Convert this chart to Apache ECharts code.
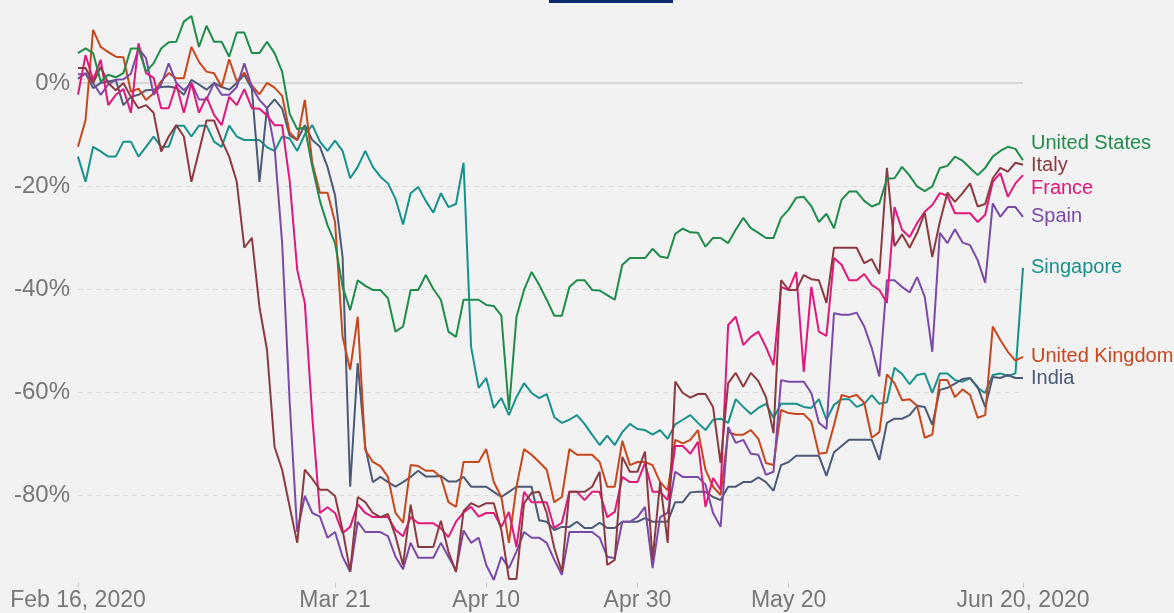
<!DOCTYPE html>
<html><head><meta charset="utf-8">
<script src="https://cdn.jsdelivr.net/npm/echarts@6/dist/echarts.min.js"></script>
<style>html,body{margin:0;padding:0;background:#f2f2f2}#c{width:1174px;height:613px}</style>
</head><body><div id="c"></div><script>
// ---- data (mobility change vs baseline, %) ----
const dayCount = 126; // Feb 16, 2020 .. Jun 20, 2020
const tickIndex = [0, 34, 54, 74, 94, 125];
const tickLabels = ['Feb 16, 2020', 'Mar 21', 'Apr 10', 'Apr 30', 'May 20', 'Jun 20, 2020'];
const seriesNames = ['Singapore', 'India', 'United Kingdom', 'Spain', 'France', 'Italy', 'United States'];

const unitedStates = [5.8,6.7,5.8,0.3,1.6,1.1,1.9,6.7,6.7,2.2,3.8,6.7,7.9,8.0,11.9,13.0,7.0,11.1,8.0,8.0,5.1,9.8,9.8,5.8,5.8,8.0,5.8,2.2,-6,-9,-8.6,-16.3,-22.9,-27.6,-31.1,-39.6,-44.1,-38.3,-39.4,-40.2,-40.2,-41.8,-48.3,-47.3,-40.2,-40.2,-37.3,-40,-42.1,-48.3,-49.3,-42.1,-42.1,-42.1,-43.1,-43.3,-45.2,-63.5,-45.4,-40.2,-36.7,-39.2,-42.1,-45.2,-45.2,-39.6,-38.3,-38.3,-40.2,-40.3,-41.2,-42.1,-35.3,-34,-34,-34,-32.2,-33.7,-34,-29.3,-28.3,-29,-29.1,-31.8,-30.1,-30.1,-31.1,-28.5,-26.2,-28.2,-29.1,-30.1,-30.1,-26.2,-24.6,-22.3,-22.1,-23.9,-27,-25.4,-28.2,-22.7,-21.1,-21.1,-22.9,-24,-23.4,-18.6,-18.5,-16.3,-18,-20.1,-21,-20.1,-16.5,-16.1,-14.3,-15.1,-16.5,-17.9,-16.5,-14.3,-13.2,-12.4,-12.8,-15.0];

const italy = [2.9,2.9,0,3.1,0,-1.4,0,-2.7,-4.9,-4.3,-5.8,-13.3,-10.4,-8.2,-10.4,-19.2,-13.3,-7.3,-7.3,-11.1,-14.3,-19.2,-32,-30.1,-43.5,-51.8,-70.7,-75.1,-82.3,-89.3,-75.1,-76.9,-79,-79,-80.2,-86.8,-94.9,-80.4,-81.4,-83.5,-84.3,-83.7,-88,-93.6,-81.9,-90.1,-90.1,-90.1,-85,-91,-95,-83.1,-81.6,-82.3,-81.6,-81.6,-86.8,-96.3,-96.3,-81.6,-79.6,-79.4,-83.5,-90.3,-94.9,-79.4,-79.4,-79.4,-78.4,-75.5,-93.6,-92.6,-72.6,-75.5,-75.5,-71.6,-92.6,-77.5,-89.3,-58,-60.2,-61.1,-60.4,-60.4,-62.9,-73.8,-58.3,-56.3,-59,-56.3,-57.9,-61,-68,-38.3,-40.2,-40.2,-37.3,-38.1,-38.3,-42.7,-32,-32,-32,-32,-35,-34.2,-37.1,-16.5,-31.7,-29.4,-32,-29.1,-25.2,-33.8,-27,-21.3,-23.1,-21.4,-19.5,-24,-23.5,-18.5,-16.5,-17.2,-15.5,-15.9];

const france = [-2.3,5.4,0.6,4.5,-4.3,-2.3,-1.2,-5.8,7.7,1.9,1.0,-4.9,-4.9,-0.3,-5.8,0,-5.8,-2.7,-6.2,-8.2,-2.7,-4.3,-1.2,-4.9,-5.0,-6.3,-8.2,-8.2,-19,-36.3,-42.7,-65,-83.5,-82.4,-83.5,-87.4,-86.2,-81.8,-83.5,-84.3,-84.3,-84.3,-86.8,-88,-84.3,-85.5,-85.5,-85.5,-86.5,-88.2,-85.2,-83.4,-82.3,-84.2,-83.5,-83.5,-86.2,-83.3,-90.1,-79.4,-81.4,-81.4,-81.4,-86.4,-85.4,-79.4,-79.4,-81,-79.4,-79.4,-84.3,-83.3,-76.5,-77.5,-77.5,-73.8,-79.4,-79.4,-81,-70.5,-70.5,-72,-69.7,-82.3,-76.7,-79,-47,-45.4,-50.9,-49.3,-48.3,-51.3,-54.8,-39.6,-40.2,-36.7,-56.1,-39.6,-48.3,-49.1,-34,-35.3,-38.3,-38.3,-37.1,-39.2,-40.2,-42.7,-24.1,-28.5,-29.9,-27.2,-25,-23.7,-21.4,-21.9,-25.3,-25.3,-25.3,-27,-25.6,-19.2,-17.5,-22.1,-19.5,-17.9];

const spain = [1.7,1.7,0,-2.3,-0.3,0.6,0.7,1.8,6.7,4.8,-2.3,-0.3,3.8,0,-1.4,0,-3.2,-3.2,0,-2.3,-2.3,-0.8,3.8,-0.8,-3.3,-4.9,-12.5,-31,-62,-87.2,-80.2,-83.5,-84.2,-88.3,-87.2,-92,-94.9,-85.2,-87.2,-87.2,-87.2,-88,-92,-94.4,-89.3,-92.2,-92.2,-92.2,-89.3,-92,-94.6,-86.9,-89.3,-88.3,-93.6,-96.5,-92,-94.2,-91,-87.2,-88.3,-88.3,-89.3,-92.6,-95.5,-87.2,-87.2,-87.2,-87.2,-88.3,-92,-92.3,-85.2,-85.2,-84.3,-82.3,-94.2,-84.3,-83.5,-75.5,-76.5,-76.5,-76.5,-78,-83.5,-86.2,-66.8,-69.9,-69.3,-72,-72.2,-76.1,-75.5,-57.7,-58,-58,-58,-60.2,-66,-67.2,-44.7,-45,-45,-44.6,-47.3,-51.5,-57,-38.3,-38.3,-39.6,-40.7,-37.7,-41.5,-52.2,-29.1,-31.1,-28.4,-31,-31.5,-34.4,-38.8,-23.4,-26,-24.1,-24.1,-26];

const singapore = [-14.3,-19.2,-12.4,-13.3,-14.3,-14.3,-11.4,-11.4,-14.3,-12.4,-10.4,-12.4,-12.4,-8.3,-8.3,-10.4,-8.3,-8.3,-11.4,-12.4,-8.3,-10.4,-11.1,-11.1,-11.1,-12.5,-13.2,-10.4,-10.8,-13.2,-10,-8.2,-11.4,-13.2,-11.2,-13.2,-18.5,-16.3,-13.2,-16.3,-18.2,-19.5,-22.5,-27.5,-21.4,-20.2,-22.9,-25.2,-21.4,-24.1,-23.5,-15.5,-51.3,-59.2,-57.3,-63.1,-61.2,-64.5,-61,-58.3,-60.2,-61.2,-60.4,-64.9,-66,-65.4,-64.5,-66.2,-68.3,-70.3,-68.5,-70.3,-67.8,-66.2,-67.2,-67.4,-68.3,-67.4,-69.1,-66.3,-65.4,-64.5,-66,-67.4,-65.4,-65.2,-66,-61.4,-62.9,-64.3,-63.1,-62.3,-65,-62.3,-62.3,-62.3,-62.9,-63.1,-61.4,-65.4,-62.5,-61.4,-61.4,-62.9,-62.3,-60.6,-62.3,-62,-55.3,-56.5,-58.5,-56.7,-56.4,-60.2,-56.4,-56.4,-57.7,-58,-57.3,-59.2,-60.2,-56.7,-56.4,-56.9,-56.4,-35.9];

const unitedKingdom = [-12.4,-7.2,10.3,7.0,6.0,5.1,5.0,-1.7,-1.1,-3.3,-2.0,0.3,1.9,0.9,0.9,7.0,4.1,2.2,1.9,-0.8,4.6,0.3,2.0,-0.5,-2.2,0,-0.9,-2.5,-9.6,-11.1,-3.3,-15.6,-21.3,-21.3,-27,-49.3,-55.7,-45.4,-71.3,-73.6,-74.4,-76.5,-83.5,-85.4,-74.2,-74.4,-75.3,-75.3,-76.5,-81.4,-82.3,-73.6,-73.6,-73.6,-71.1,-77.5,-80.4,-89.3,-78.4,-71.1,-72.2,-73.6,-75.1,-81.4,-80.4,-71.1,-72.2,-72.2,-72.2,-73.6,-78.4,-78.4,-69.5,-74.2,-73.6,-73.6,-74.2,-77.5,-79.1,-69.3,-70,-69.3,-67.4,-75.1,-78.4,-80,-67.8,-68.3,-68.3,-67.4,-69.1,-73.8,-74.2,-63.5,-64.1,-64.3,-64.3,-65.8,-72,-71.8,-66.4,-60.6,-61,-60.6,-62.1,-68.9,-67.8,-56.6,-58.3,-61.6,-61.4,-62.7,-68.9,-68.3,-57.7,-57.7,-61,-59.5,-60.6,-65,-64.5,-47.3,-49.9,-52.2,-53.9,-53.2];

const india = [0.8,1.9,-1,0,0.3,0.6,-4.3,-2.7,-2.3,-1.4,-1.3,-0.8,-0.7,-1.0,-2.3,0.6,-0.3,-1.3,0,-0.8,-1.3,0,1.6,-1.2,-19.2,-4.9,-3.2,-5,-10.2,-11.1,-8.2,-11.1,-12.4,-16.3,-21.8,-33.8,-78.4,-54.4,-70.7,-77.5,-76.5,-77.5,-78.4,-77.5,-76.5,-75.3,-76.4,-76.4,-76.3,-77.4,-77.4,-76.5,-78.4,-78.4,-78.4,-79.4,-80.4,-79.4,-78.4,-78.4,-78.4,-84.9,-85.2,-86.8,-86.2,-86.2,-85.2,-86.4,-86.4,-85.4,-86.4,-86.4,-85.2,-85.2,-85.2,-84.5,-85.2,-85.2,-85.2,-81.4,-81.4,-79.5,-79.4,-79.4,-80.4,-81,-78.4,-78.4,-77.5,-77.5,-76.6,-77.5,-79.2,-74.2,-73.6,-72.4,-72.4,-72.4,-72.4,-76.3,-71.7,-70.5,-69.3,-69.3,-69.3,-69.3,-73.2,-66,-65.2,-65.2,-64.5,-62.7,-62.9,-66.4,-59.6,-59.2,-58.4,-57.5,-57.3,-59,-62.9,-57.1,-57.3,-56.7,-57.3,-57.3];

// ---- categories (one per day) ----
const categories = [];
const day0 = Date.UTC(2020, 1, 16);
for (let i = 0; i < dayCount; i++) {
  categories.push(new Date(day0 + i * 86400000).toISOString().slice(0, 10));
}

const seriesData = {
  'Singapore': singapore, 'India': india, 'United Kingdom': unitedKingdom,
  'Spain': spain, 'France': france, 'Italy': italy, 'United States': unitedStates
};
const colors = {
  'Singapore': '#17918c', 'India': '#4b5a77', 'United Kingdom': '#c8461d',
  'Spain': '#7b4aa7', 'France': '#e2177b', 'Italy': '#8c3a42', 'United States': '#1f8c4c'
};
const labelShift = {
  'Singapore': 0, 'India': 0, 'United Kingdom': 0, 'Spain': 0,
  'France': 13, 'Italy': 1, 'United States': -17
};

const isTick = (idx) => tickIndex.indexOf(idx) >= 0;
const FONT = 'Liberation Sans, Arial, Helvetica, sans-serif';

const series = seriesNames.map((name, i) => ({
  name: name,
  type: 'line',
  data: seriesData[name],
  symbol: 'none',
  z: 2,
  lineStyle: { width: 2, color: colors[name] },
  itemStyle: { color: colors[name] },
  endLabel: {
    show: true, formatter: '{a}', color: colors[name], fontSize: 20,
    fontFamily: FONT, distance: 8, offset: [0, labelShift[name]]
  },
  markLine: i === 0 ? {
    silent: true, symbol: 'none', z: 1, animation: false,
    label: { show: false },
    lineStyle: { color: '#d6d6d6', width: 2, type: 'solid' },
    data: [{ yAxis: 0 }]
  } : undefined
}));

const chart = echarts.init(document.getElementById('c'), null, { renderer: 'canvas' });
chart.setOption({
  animation: false,
  backgroundColor: '#f2f2f2',
  textStyle: { fontFamily: FONT },
  grid: { left: 78, right: 151, top: 16, bottom: 30.5, containLabel: false },
  xAxis: {
    type: 'category', data: categories, boundaryGap: false,
    axisLine: { show: false, onZero: false },
    axisTick: { show: true, interval: (idx) => isTick(idx), length: 5, lineStyle: { color: '#c8c8c8', width: 1 } },
    axisLabel: {
      interval: (idx) => isTick(idx), margin: 7, color: '#777', fontSize: 23, fontFamily: FONT,
      formatter: (v, idx) => tickLabels[tickIndex.indexOf(idx)] || ''
    },
    splitLine: { show: false }
  },
  yAxis: {
    type: 'value', min: -97, max: 13, splitNumber: 5, minInterval: 20, maxInterval: 20,
    axisLine: { show: false }, axisTick: { show: false },
    axisLabel: { formatter: (v) => v + '%', color: '#777', fontSize: 24, fontFamily: FONT, margin: 8,
                 showMinLabel: false, showMaxLabel: false },
    splitLine: { show: true, showMinLine: false, showMaxLine: false,
                 lineStyle: { color: '#dadada', width: 1, type: [5, 4] } }
  },
  graphic: [
    { type: 'rect', left: 549, top: 0, shape: { width: 124, height: 3 }, style: { fill: '#0d2a6c' } }
  ],
  series: series
});
</script></body></html>
